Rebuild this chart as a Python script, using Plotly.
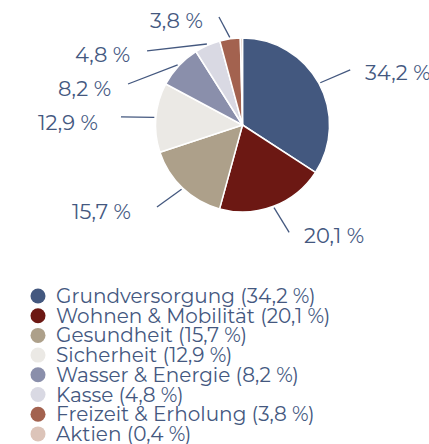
import math
import plotly.graph_objects as go

# ---- data ----
categories = ["Grundversorgung", "Wohnen & Mobilität", "Gesundheit", "Sicherheit",
              "Wasser & Energie", "Kasse", "Freizeit & Erholung", "Aktien"]
shares = [34.2, 20.1, 15.7, 12.9, 8.2, 4.8, 3.8, 0.4]
colors = ["#43587f", "#6c1813", "#ada08a", "#ebe9e5",
          "#8a8fab", "#d9d9e3", "#a3624f", "#dcc4b9"]

# ---- layout (pixel geometry) ----
W, H = 429, 444
CX, CY, R = 242.5, 125.0, 87.0
TEXT_COLOR = "#44587f"
FONT = "Montserrat, Noto Sans, sans-serif"

# leader line end (angle deg clockwise from top, radius px), text gap, y offset
label_end = [(62.9, 121), (156.5, 117), (226.2, 118.5), (273.8, 121.8),
             (289.7, 121.6), (307.8, 120.8), (347.7, 110.5), None]
label_gap = [13, 13, 24, 21, 15, 15, 14, 0]
label_dy = [3, 3, 4, 6, 4, 4, 3, 0]

legend_x_marker, legend_x_text = 38, 54
legend_y0, legend_step = 296, 19.7


def fmt(v):
    return f"{v:.1f}".replace(".", ",") + " %"


def polar(deg, r):
    a = math.radians(deg)
    return CX + r * math.sin(a), CY - r * math.cos(a)


fig = go.Figure()

fig.add_trace(go.Pie(
    labels=categories, values=shares, sort=False, direction="clockwise", rotation=0,
    marker=dict(colors=colors, line=dict(color="white", width=1.5)),
    textinfo="none", hoverinfo="label+percent", showlegend=False,
    domain=dict(x=[(CX - R) / W, (CX + R) / W], y=[1 - (CY + R) / H, 1 - (CY - R) / H]),
))

total = sum(shares)
shapes, annotations = [], []
cum = 0.0
for i, v in enumerate(shares):
    mid = (cum + v / 2) / total * 360
    cum += v
    if label_end[i] is None:
        continue
    x0, y0 = polar(mid, R + 1.5)
    ang, rr = label_end[i]
    x1, y1 = polar(ang, rr)
    shapes.append(dict(type="line", xref="x", yref="y", x0=x0, y0=y0, x1=x1, y1=y1,
                       line=dict(color=TEXT_COLOR, width=1.3)))
    right = x1 > CX
    annotations.append(dict(
        xref="x", yref="y", x=x1 + (label_gap[i] if right else -label_gap[i]), y=y1 + label_dy[i],
        text=fmt(v), showarrow=False, xanchor="left" if right else "right", yanchor="middle",
        font=dict(family=FONT, size=21, color=TEXT_COLOR)))

# custom legend
leg_y = [legend_y0 + k * legend_step for k in range(len(categories))]
fig.add_trace(go.Scatter(
    x=[legend_x_marker] * len(categories), y=leg_y, mode="markers",
    marker=dict(color=colors, size=15, line=dict(width=0)),
    hoverinfo="skip", showlegend=False))
for k, (name, v) in enumerate(zip(categories, shares)):
    annotations.append(dict(
        xref="x", yref="y", x=legend_x_text, y=leg_y[k],
        text=f"{name} ({fmt(v)})", showarrow=False,
        xanchor="left", yanchor="middle",
        font=dict(family=FONT, size=20, color=TEXT_COLOR)))

fig.update_layout(
    width=W, height=H, margin=dict(l=0, r=0, t=0, b=0),
    paper_bgcolor="white", plot_bgcolor="rgba(0,0,0,0)",
    xaxis=dict(range=[0, W], visible=False, fixedrange=True, domain=[0, 1]),
    yaxis=dict(range=[H, 0], visible=False, fixedrange=True, domain=[0, 1]),
    shapes=shapes, annotations=annotations, showlegend=False,
)

fig.write_html("out.html", config={"displayModeBar": False},
               post_script="document.body.style.margin='0';document.body.style.overflow='hidden';")
